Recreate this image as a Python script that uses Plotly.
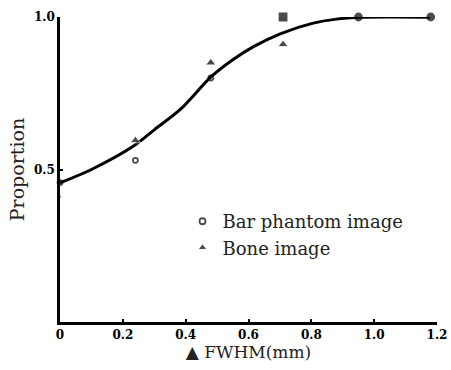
import plotly.graph_objects as go

# Data
bar_x = [0.0, 0.24, 0.48, 0.71, 0.95, 1.18]
bar_y = [0.457, 0.53, 0.80, 1.0, 1.0, 1.0]
bone_x = [0.0, 0.24, 0.48, 0.71]
bone_y = [0.41, 0.595, 0.85, 0.91]
curve_x = [0.0, 0.1, 0.233, 0.30, 0.382, 0.482, 0.55, 0.616, 0.701, 0.806, 0.88, 0.953, 1.05, 1.178]
curve_y = [0.456, 0.50, 0.576, 0.63, 0.696, 0.805, 0.86, 0.903, 0.945, 0.980, 0.993, 0.999, 1.0, 0.999]
x_ticks = [0, 0.2, 0.4, 0.6, 0.8, 1.0, 1.2]
x_tick_labels = ["0", "0.2", "0.4", "0.6", "0.8", "1.0", "1.2"]
y_ticks = [0.5, 1.0]
y_tick_labels = ["0.5", "1.0"]

FONT = "DejaVu Serif"

fig = go.Figure()
fig.add_trace(go.Scatter(
    x=curve_x, y=curve_y, mode="lines", line=dict(color="black", width=3, shape="spline", smoothing=0.8),
    showlegend=False, hoverinfo="skip", cliponaxis=False))
fig.add_trace(go.Scatter(
    x=bar_x, y=bar_y, mode="markers", name="Bar phantom image",
    marker=dict(symbol=["circle-open", "circle-open", "circle-open", "square", "circle", "circle"],
                size=[5, 5, 5, 7, 7, 7], color="black", line=dict(color="black", width=1.8)),
    cliponaxis=False))
fig.add_trace(go.Scatter(
    x=bone_x, y=bone_y, mode="markers", name="Bone image",
    marker=dict(symbol="triangle-up", size=[4, 9, 9, 9], color="black"),
    cliponaxis=False))

fig.update_layout(
    width=451, height=370,
    margin=dict(l=60, r=14, t=17, b=48),
    paper_bgcolor="white", plot_bgcolor="white",
    font=dict(family=FONT, color="black", size=13),
    legend=dict(x=0.325, y=0.39, xanchor="left", yanchor="top", bgcolor="rgba(0,0,0,0)",
                font=dict(family=FONT, size=18, color="#222"),
                tracegroupgap=0),
    xaxis=dict(range=[0, 1.2], tickvals=x_ticks, ticktext=x_tick_labels, automargin=False,
               showgrid=False, zeroline=False, showline=True, linecolor="black", linewidth=2.5,
               ticks="inside", ticklen=3, tickwidth=2, tickcolor="black",
               tickfont=dict(family=FONT, size=12, color="black", weight="bold"),
               title=dict(text="▲ FWHM(mm)", font=dict(family=FONT, size=17, color="#222"), standoff=4)),
    yaxis=dict(range=[0, 1.0], tickvals=y_ticks, ticktext=y_tick_labels, automargin=False,
               showgrid=False, zeroline=False, showline=True, linecolor="black", linewidth=2.5,
               ticks="inside", ticklen=3, tickwidth=2, tickcolor="black",
               tickfont=dict(family=FONT, size=12, color="black", weight="bold"),
               title=dict(text="Proportion", font=dict(family=FONT, size=19, color="#222"), standoff=5)),
)

fig.write_html("out.html", config={"displayModeBar": False},
               post_script="document.body.style.margin='0';document.body.style.overflow='hidden';")
